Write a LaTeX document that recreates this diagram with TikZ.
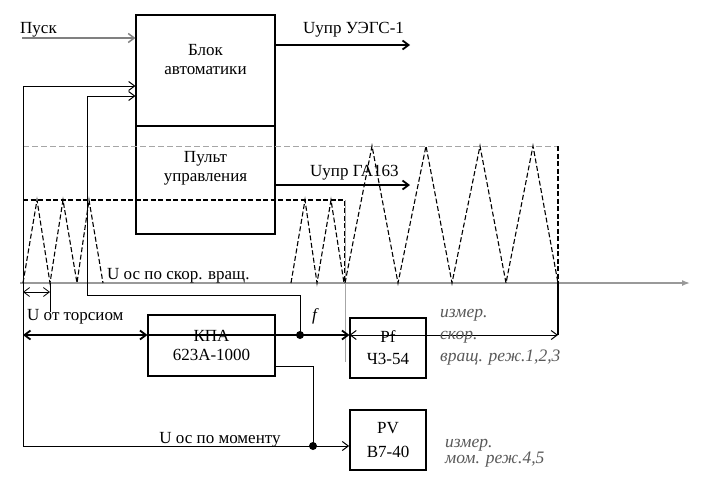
\documentclass[tikz,border=0pt]{standalone}
\usepackage{fontspec}
\setmainfont{Liberation Serif}
\usetikzlibrary{arrows.meta, positioning}

\begin{document}
\begin{tikzpicture}[
    x=1pt, y=-1pt,
    font=\fontsize{17}{19}\selectfont,
    box/.style={draw=black, line width=1.1pt, align=center, inner sep=2pt},
    arr/.style={-{Straight Barb[length=6pt, width=9pt]}, line width=1pt},
    darr/.style={{Straight Barb[length=6pt, width=9pt]}-{Straight Barb[length=6pt, width=9pt]}, line width=1pt},
    wave/.style={draw=black, line width=1.1pt, dash pattern=on 5pt off 2.5pt},
    guide/.style={draw=black!35, line width=1pt, dash pattern=on 6pt off 3pt},
    note/.style={font=\fontsize{17.5}{22}\itshape\selectfont, text=black!65, align=left, inner sep=0pt}
]
\useasboundingbox (0,0) rectangle (709,480);

% 1. Blocks
\node[box, minimum width=139pt, minimum height=111pt] (blok) at (205.5,70.5) {Блок\\автоматики\\[4pt]};
\node[box, minimum width=139pt, minimum height=108pt,
      label={[below=22pt, align=center]north:{Пульт\\управления}}] (pult) at (205.5,180) {};
\node[box, minimum width=127pt, minimum height=61pt] (kpa) at (211.5,345.5) {КПА\\623А-1000};
\node[box, minimum width=76pt, minimum height=60pt] (pf) at (388,348) {Pf\\[3pt]Ч3-54};
\node[box, line width=1.8pt, minimum width=76pt, minimum height=60pt] (pv) at (388,440) {PV\\[5pt]В7-40};

% 2. Time axis and waveforms
\draw[draw=black!40, line width=1.5pt, -{Latex[length=8pt]}] (20,283) -- (690,283);
\draw[guide] (23,146) -- (558,146);
\draw[wave] (23,200) -- (345,200) -- (345,283);
\draw[wave] (558,146) -- (558,283);
\draw[draw=black!35, line width=0.8pt] (345,200) -- (345,362);

\draw[wave] (23,283) -- (37,200) -- (50,283) -- (63,200) -- (77,283) -- (89,200) -- (103,283);
\draw[wave] (291,283) -- (305,200) -- (317,283) -- (331,200) -- (344,283);
\draw[wave] (345,283) -- (372,146) -- (398,283) -- (426,146) -- (452,283)
    -- (480,146) -- (506,283) -- (533,146) -- (558,283);

% 3. Inputs and outputs of the automatic block
\coordinate (pusk) at (22,38);
\coordinate (uegs) at (410,45);
\coordinate (ga) at (410,185);
\draw[arr, draw=black!50, line width=1.5pt] (pusk) -- (pusk -| blok.west);
\draw[arr, line width=1.8pt] (uegs -| blok.east) -- (uegs);
\draw[arr, line width=1.8pt] (ga -| pult.east) -- (ga);

\node[anchor=base west, inner sep=0pt] (pusk_lbl) at (20,33) {Пуск};
\node[anchor=base west, inner sep=0pt] (uegs_lbl) at (303,33) {Uупр УЭГС-1};
\node[anchor=base west, inner sep=0pt] (ga_lbl) at (310,176) {Uупр ГА163};
\node[anchor=base west, inner sep=0pt] (speed_lbl) at (107,279) {U ос по скор. вращ.};

% 4. Feedback paths
\coordinate (tors) at (23,335);
\coordinate (f_dot) at (300,335);
\coordinate (f_bend) at (87,295);
\coordinate (f_top) at (87,96);
\coordinate (kpa_out) at (313,366);
\coordinate (m_dot) at (313,446);
\coordinate (fb_top) at (23,86);
\coordinate (meas_end) at (558,335);

\draw[darr, line width=1.8pt] (tors) -- (tors -| kpa.west);
\draw[arr, line width=1.8pt] (tors -| kpa.west) -- (tors -| pf.west);
\fill (f_dot) circle (4pt);
\draw[arr] (f_dot) -- (f_dot |- f_bend) -- (f_bend) -- (f_top) -- (f_top -| blok.west);

\draw[line width=1pt] (kpa.east |- kpa_out) -- (kpa_out) -- (m_dot);
\fill (m_dot) circle (4pt);
\draw[arr] (m_dot) -- (m_dot -| pv.west);
\draw[arr] (m_dot) -| (fb_top) -- (fb_top -| blok.west);

% 5. Measured intervals
\draw[darr, line width=0.8pt] (23,292) -- (50,292);
\draw[line width=1pt] (50,283) -- (50,312);
\draw[darr, line width=1pt] (tors -| pf.west) -- (meas_end);
\draw[line width=1.2pt] (558,283) -- (meas_end);

\node[anchor=base west, inner sep=0pt] (tors_lbl) at (27,320) {U от торсиом};
\node[anchor=base west, inner sep=0pt, font=\fontsize{17}{19}\itshape\selectfont] (f_lbl) at (312,320) {f};
\node[anchor=base, inner sep=0pt] (mom_lbl) at (220,443) {U ос по моменту};

\node[note, anchor=base west] (speed_note) at (440,361) {измер.\\скор.\\вращ. реж.1,2,3};
\node[note, anchor=base west, font=\fontsize{17.5}{16}\itshape\selectfont] (mom_note) at (445,463) {измер.\\мом. реж.4,5};

\end{tikzpicture}
\end{document}
